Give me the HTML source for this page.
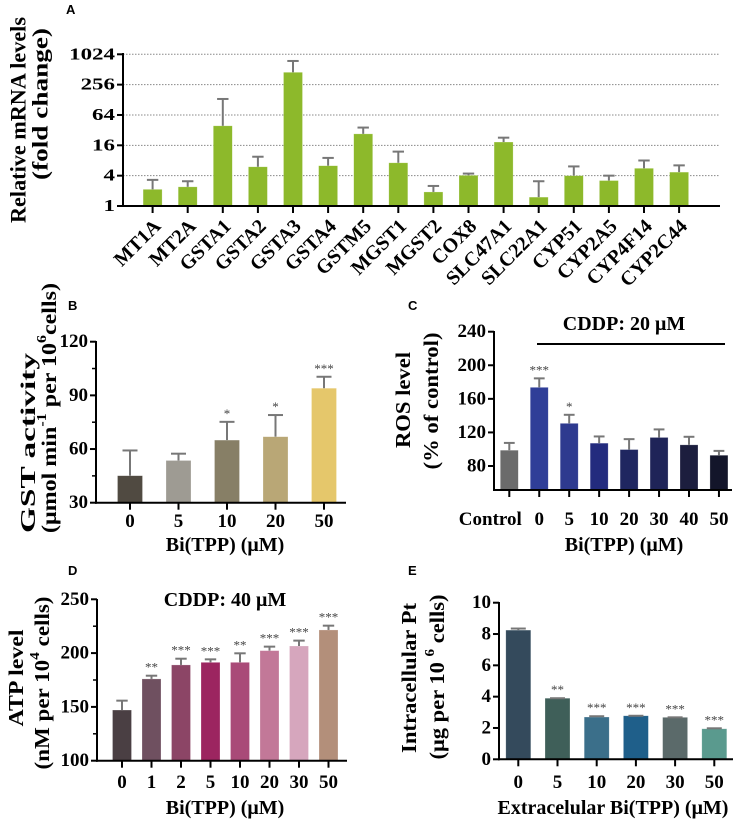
<!DOCTYPE html>
<html><head><meta charset="utf-8"><style>
html,body{margin:0;padding:0;background:#fff;}
svg{display:block;}
text{font-family:"Liberation Serif",serif;font-weight:bold;fill:#000;}
.lt{font-family:"Liberation Sans",sans-serif;font-weight:bold;font-size:13px;}
</style></head><body>
<svg id="fig" width="736" height="819" viewBox="0 0 736 819" xmlns="http://www.w3.org/2000/svg">
<rect width="736" height="819" fill="#fff"/>
<text class="lt" x="66" y="14">A</text>
<text class="lt" x="68" y="310">B</text>
<text class="lt" x="408" y="310">C</text>
<text class="lt" x="68" y="575">D</text>
<text class="lt" x="408" y="575">E</text>

<text transform="translate(18,120) rotate(-90)" text-anchor="middle" dominant-baseline="central" font-size="22" textLength="206" lengthAdjust="spacingAndGlyphs">Relative mRNA levels</text>
<text transform="translate(40,104) rotate(-90)" text-anchor="middle" dominant-baseline="central" font-size="22" textLength="152" lengthAdjust="spacingAndGlyphs">(fold change)</text>

<text transform="translate(28,443) rotate(-90)" text-anchor="middle" dominant-baseline="central" font-size="21" textLength="180" lengthAdjust="spacingAndGlyphs">GST activity</text>
<text transform="translate(49,408) rotate(-90)" text-anchor="middle" dominant-baseline="central" font-size="21" textLength="250" lengthAdjust="spacingAndGlyphs">(μmol min<tspan font-size="14" dy="-7">-1</tspan><tspan dy="7"> per 10</tspan><tspan font-size="14" dy="-7">6</tspan><tspan dy="7">cells)</tspan></text>
<text x="225" y="551" text-anchor="middle" font-size="20">Bi(TPP) (μM)</text>

<text transform="translate(403,400) rotate(-90)" text-anchor="middle" dominant-baseline="central" font-size="21" textLength="96" lengthAdjust="spacingAndGlyphs">ROS level</text>
<text transform="translate(431,401) rotate(-90)" text-anchor="middle" dominant-baseline="central" font-size="21" textLength="137" lengthAdjust="spacingAndGlyphs">(% of control)</text>
<text x="624" y="551" text-anchor="middle" font-size="20">Bi(TPP) (μM)</text>
<text x="624" y="330" text-anchor="middle" font-size="20">CDDP: 20 μM</text>
<line x1="537" y1="344" x2="725" y2="344" stroke="#000" stroke-width="2"/>

<text transform="translate(16,678) rotate(-90)" text-anchor="middle" dominant-baseline="central" font-size="21" textLength="97" lengthAdjust="spacingAndGlyphs">ATP level</text>
<text transform="translate(42,683) rotate(-90)" text-anchor="middle" dominant-baseline="central" font-size="21" textLength="173" lengthAdjust="spacingAndGlyphs">(nM per 10<tspan font-size="14" dy="-7">4</tspan><tspan dy="7"> cells)</tspan></text>
<text x="225" y="814" text-anchor="middle" font-size="20">Bi(TPP) (μM)</text>
<text x="225" y="606" text-anchor="middle" font-size="20">CDDP: 40 μM</text>

<text transform="translate(409,678) rotate(-90)" text-anchor="middle" dominant-baseline="central" font-size="21" textLength="150" lengthAdjust="spacingAndGlyphs">Intracellular Pt</text>
<text transform="translate(437,677) rotate(-90)" text-anchor="middle" dominant-baseline="central" font-size="21" textLength="165" lengthAdjust="spacingAndGlyphs">(μg per 10 <tspan font-size="14" dy="-7">6</tspan><tspan dy="7"> cells)</tspan></text>
<text x="613" y="814" text-anchor="middle" font-size="20">Extracelular Bi(TPP) (μM)</text>
</svg>
<script>
// Panel A data
const catsA = ["MT1A","MT2A","GSTA1","GSTA2","GSTA3","GSTA4","GSTM5","MGST1","MGST2","COX8","SLC47A1","SLC22A1","CYP51","CYP2A5","CYP4F14","CYP2C44"];
const valsA = [2.14,2.4,39,6,450,6.3,27,7.2,1.9,4.06,18.6,1.5,4.0,3.2,5.6,4.7];
const errsA = [3.3,3.1,133,9.5,755,9,36,12,2.5,4.4,22.7,3.1,6.1,4,8,6.4];
const ticksA = [1,4,16,64,256,1024];
// Panel B data
const catsB = ["0","5","10","20","50"];
const valsB = [45.1,53.6,65,66.9,94];
const errsB = [59.2,57.4,75.2,79,100.4];
const starsB = ["","","*","*","***"];
const ticksB = [30,60,90,120];
// Panel C data
const catsC = ["Control","0","5","10","20","30","40","50"];
const valsC = [98.8,173.7,130.8,107.2,99.6,114,105.2,92.8];
const errsC = [107.5,184.4,141,115.2,112,123.6,114.8,98];
const starsC = ["","***","*","","","","",""];
const ticksC = [80,120,160,200,240];
// Panel D data
const catsD = ["0","1","2","5","10","20","30","50"];
const valsD = [147.1,176,189,191.4,191.4,202.3,206.6,221.5];
const errsD = [155.8,179,194.8,194.2,199.8,206,211.6,225.5];
const starsD = ["","**","***","***","**","***","***","***"];
const ticksD = [100,150,200,250];
// Panel E data
const catsE = ["0","5","10","20","30","50"];
const valsE = [8.25,3.9,2.7,2.78,2.68,1.95];
const errsE = [8.35,3.9,2.75,2.78,2.68,1.98];
const starsE = ["","**","***","***","***","***"];
const ticksE = [0,2,4,6,8,10];

const NS="http://www.w3.org/2000/svg";
const svg=document.getElementById('fig');
function mk(tag,attrs){const e=document.createElementNS(NS,tag);for(const k in attrs)e.setAttribute(k,attrs[k]);svg.appendChild(e);return e;}

function panel(p){
  const {cats,vals,errs,stars,ticks,colors,x0,x1,c0,step,bw,y,yBottom,yTop,name,tickFs,tickLabelY,fmt,minor,grid,rotLabels,labelShift}=p;
  if(grid){ticks.forEach(t=>{const g=mk('line',{x1:x0,x2:x1,y1:y(t),y2:y(t),stroke:'#888','stroke-width':1,'stroke-dasharray':'1.5,1.5'});
    
    });}
  vals.forEach((v,i)=>{
    const cx=c0+i*step, yt=y(v);
    const r=mk('rect',{x:cx-bw/2,y:yt,width:bw,height:yBottom-yt,fill:Array.isArray(colors)?colors[i]:colors,stroke:'rgba(255,255,255,0.4)','stroke-width':0.6});
    
    
    const ye=y(errs[i]);
    if(Math.abs(ye-yt)>0.3){
      const l=mk('line',{x1:cx,x2:cx,y1:yt,y2:ye,stroke:'#777','stroke-width':2});
      
      
    }
    const c=mk('line',{x1:cx-bw*0.3,x2:cx+bw*0.3,y1:ye,y2:ye,stroke:'#777','stroke-width':2});
    
    
    if(stars && stars[i]){
      const s=mk('text',{x:cx,y:ye-4,'text-anchor':'middle','font-size':13});
      s.style.fill='#444';s.style.fontWeight='normal';
      s.textContent=stars[i];
      
      
    }
    const tk=mk('line',{x1:cx,x2:cx,y1:yBottom,y2:yBottom+7,stroke:'#000','stroke-width':2});
    
    
    let lab;
    if(rotLabels){
      lab=mk('text',{transform:`translate(${cx+5},${yBottom+17}) rotate(-45)`,'text-anchor':'end','font-size':20,'dominant-baseline':'central'});
    } else {
      const sh=(labelShift&&labelShift[i])||0;
      lab=mk('text',{x:cx+sh,y:tickLabelY,'text-anchor':'middle','font-size':tickFs});
    }
    lab.textContent=cats[i];
    
    
  });
  const ya=mk('line',{x1:x0,x2:x0,y1:yTop,y2:yBottom+1,stroke:'#000','stroke-width':2});
  
  
  const xa=mk('line',{x1:x0-1,x2:x1,y1:yBottom,y2:yBottom,stroke:'#000','stroke-width':2});
  
  
  ticks.forEach(t=>{
    const yy=y(t);
    const tk=mk('line',{x1:x0-6,x2:x0,y1:yy,y2:yy,stroke:'#000','stroke-width':2});
    
    
    const tl=mk('text',{x:x0-8,y:yy,'text-anchor':'end','dominant-baseline':'central','font-size':tickFs});
    if(p.tickScale) tl.setAttribute('transform',`translate(${x0-8},0) scale(${p.tickScale},1) translate(${-(x0-8)},0)`);
    tl.textContent=fmt?fmt(t):String(t);
    
    
  });
  if(minor){minor.forEach(t=>{const yy=y(t);const m=mk('line',{x1:x0-4,x2:x0,y1:yy,y2:yy,stroke:'#000','stroke-width':1.5});
    
    });}
}

panel({name:'panel-a',cats:catsA,vals:valsA,errs:errsA,ticks:ticksA,colors:'#8db92b',
  x0:123,x1:720,c0:152.6,step:35.1,bw:19,y:v=>206-Math.log2(v)*15.17,yBottom:206,yTop:53,
  tickFs:17,tickScale:1.35,grid:true,rotLabels:true});
panel({name:'panel-b',cats:catsB,vals:valsB,errs:errsB,stars:starsB,ticks:ticksB,
  colors:['#504a41','#9e9b93','#877f66','#b9a776','#e5c76b'],
  x0:96,x1:346,c0:130,step:48.5,bw:25,y:v=>502.7-(v-30)*(161/90),yBottom:502.7,yTop:341,
  tickFs:19,tickLabelY:527,minor:[45,75,105]});
panel({name:'panel-c',cats:catsC,vals:valsC,errs:errsC,stars:starsC,ticks:ticksC,
  colors:['#6b6b6b','#2f3e98','#2e3a8f','#232b7e','#1f2660','#1f2458','#1c1e3e','#13152a'],
  x0:494,x1:732,c0:509.3,step:29.95,bw:18,y:v=>466-(v-80)*0.8394,yBottom:490,yTop:331,
  tickFs:19,tickLabelY:525,labelShift:[-19,0,0,0,0,0,0,0]});
panel({name:'panel-d',cats:catsD,vals:valsD,errs:errsD,stars:starsD,ticks:ticksD,
  colors:['#4a3f43','#6f5060','#8c4566','#9c2560','#a94a78','#c27898','#d6a6bd','#b38f7a'],
  x0:97,x1:347,c0:122,step:29.5,bw:19,y:v=>760.7-(v-100)*1.076,yBottom:760.7,yTop:599,
  tickFs:19,tickLabelY:788,minor:[125,175,225]});
panel({name:'panel-e',cats:catsE,vals:valsE,errs:errsE,stars:starsE,ticks:ticksE,
  colors:['#344a5c','#3f5f59','#3b6f8a','#1f5f8a','#5b6a6a','#5a9a8e'],
  x0:499,x1:733,c0:518.3,step:39.2,bw:25,y:v=>759.3-v*15.66,yBottom:759.3,yTop:602,
  tickFs:19,tickLabelY:788});
</script>
</body></html>
